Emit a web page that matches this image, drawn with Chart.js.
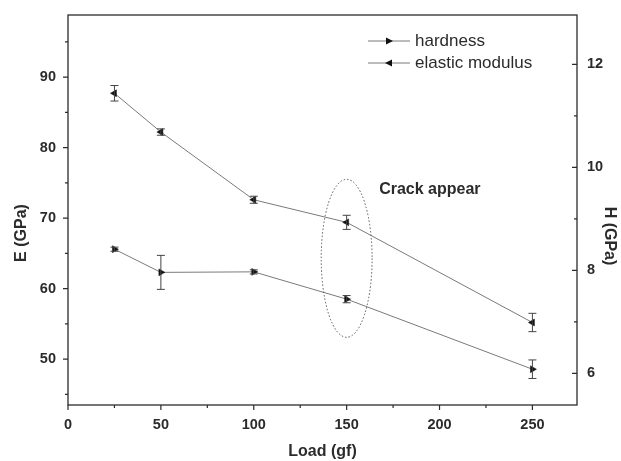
<!DOCTYPE html>
<html>
<head>
<meta charset="utf-8">
<script src="https://cdn.jsdelivr.net/npm/chart.js@4"></script>
<style>
    html, body { margin: 0; padding: 0; background: #fff; }
    #wrap { width: 621px; height: 461px; }
</style>
</head>
<body>
<div id="wrap"><canvas id="myChart" width="621" height="461"></canvas></div>
<script>
// load values (gf)
var loads = [25, 50, 100, 150, 250];
// elastic modulus, left axis (GPa)
var modulus = [87.7, 82.2, 72.6, 69.4, 55.2];
var modulusErr = [1.1, 0.45, 0.5, 1.0, 1.3];
// hardness, right axis (GPa)
var hardness = [8.41, 7.96, 7.97, 7.44, 6.08];
var hardnessErr = [0.04, 0.33, 0.04, 0.07, 0.18];

var xTicks = [0, 50, 100, 150, 200, 250];
var eTicks = [50, 60, 70, 80, 90];
var hTicks = [6, 8, 10, 12];

// the dotted "crack" ellipse, in data units (load, E)
var crackCenter = [150, 64.3];
var crackRadius = [13.7, 11.2];
var crackLabel = 'Crack appear';
var crackLabelAt = [167.5, 74.1];

var ink = '#2b2b2b';
var lineGray = '#7a7a7a';

function toPoints(xs, ys) {
    return xs.map(function (x, i) { return { x: x, y: ys[i] }; });
}

// keep the plot box fixed: no extra padding for edge labels
function noEdgePadding(ax) {
    ax.paddingTop = 0;
    ax.paddingBottom = 0;
    ax.paddingLeft = 0;
    ax.paddingRight = 0;
}

// error bars, ticks, frame, ellipse, legend, axis titles
var extras = {
    id: 'extras',
    afterDatasetsDraw: function (chart) {
        var ctx = chart.ctx;
        ctx.save();
        ctx.strokeStyle = '#444';
        ctx.lineWidth = 1;
        chart.data.datasets.forEach(function (ds, di) {
            var meta = chart.getDatasetMeta(di);
            var sc = chart.scales[ds.yAxisID];
            meta.data.forEach(function (pt, i) {
                var err = ds.errors[i];
                var v = ds.data[i].y;
                var y1 = sc.getPixelForValue(v + err);
                var y2 = sc.getPixelForValue(v - err);
                ctx.beginPath();
                ctx.moveTo(pt.x, y1); ctx.lineTo(pt.x, y2);
                ctx.moveTo(pt.x - 4, y1); ctx.lineTo(pt.x + 4, y1);
                ctx.moveTo(pt.x - 4, y2); ctx.lineTo(pt.x + 4, y2);
                ctx.stroke();
            });
        });

        // dotted ellipse
        var xs = chart.scales.x, ys = chart.scales.yE;
        var cx = xs.getPixelForValue(crackCenter[0]);
        var cy = ys.getPixelForValue(crackCenter[1]);
        var rx = xs.getPixelForValue(crackCenter[0] + crackRadius[0]) - cx;
        var ry = cy - ys.getPixelForValue(crackCenter[1] + crackRadius[1]);
        ctx.setLineDash([1.5, 2]);
        ctx.strokeStyle = '#555';
        ctx.beginPath();
        ctx.ellipse(cx, cy, rx, ry, 0, 0, Math.PI * 2);
        ctx.stroke();
        ctx.setLineDash([]);

        ctx.fillStyle = ink;
        ctx.font = 'bold 16px "Liberation Sans", Arial, sans-serif';
        ctx.textBaseline = 'middle';
        ctx.textAlign = 'left';
        ctx.fillText(crackLabel, xs.getPixelForValue(crackLabelAt[0]), ys.getPixelForValue(crackLabelAt[1]));
        ctx.restore();
    },
    afterDraw: function (chart) {
        var ctx = chart.ctx;
        var a = chart.chartArea;
        var xs = chart.scales.x, yE = chart.scales.yE, yH = chart.scales.yH;
        ctx.save();
        ctx.strokeStyle = ink;
        ctx.lineWidth = 1.3;
        ctx.strokeRect(a.left, a.top, a.right - a.left, a.bottom - a.top);

        ctx.lineWidth = 1.2;
        ctx.beginPath();
        for (var v = 0; v <= xs.max; v += 25) {
            var px = xs.getPixelForValue(v);
            ctx.moveTo(px, a.bottom);
            ctx.lineTo(px, a.bottom + (v % 50 === 0 ? 5 : 3));
        }
        for (var e = 45; e <= yE.max; e += 5) {
            var py = yE.getPixelForValue(e);
            ctx.moveTo(a.left, py);
            ctx.lineTo(a.left - (e % 10 === 0 ? 5 : 3), py);
        }
        for (var h = 6; h <= yH.max; h += 1) {
            var ph = yH.getPixelForValue(h);
            ctx.moveTo(a.right, ph);
            ctx.lineTo(a.right - (h % 2 === 0 ? 5 : 3), ph);
        }
        ctx.stroke();

        // legend
        var labels = ['hardness', 'elastic modulus'];
        var rot = [90, -90];
        ctx.font = '17px "Liberation Sans", Arial, sans-serif';
        ctx.textBaseline = 'middle';
        labels.forEach(function (lab, i) {
            var y = 41 + i * 22;
            ctx.strokeStyle = lineGray;
            ctx.lineWidth = 1;
            ctx.beginPath();
            ctx.moveTo(368, y); ctx.lineTo(410, y);
            ctx.stroke();
            ctx.fillStyle = '#111';
            ctx.save();
            ctx.translate(389, y);
            ctx.rotate(rot[i] * Math.PI / 180);
            ctx.beginPath();
            ctx.moveTo(0, -4); ctx.lineTo(3.5, 3); ctx.lineTo(-3.5, 3);
            ctx.closePath();
            ctx.fill();
            ctx.restore();
            ctx.fillStyle = ink;
            ctx.fillText(lab, 415, y);
        });

        // y axis titles
        ctx.font = 'bold 16px "Liberation Sans", Arial, sans-serif';
        ctx.textAlign = 'center';
        ctx.save();
        ctx.translate(22, 233);
        ctx.rotate(-Math.PI / 2);
        ctx.fillText('E (GPa)', 0, 0);
        ctx.restore();
        ctx.save();
        ctx.translate(609, 236);
        ctx.rotate(Math.PI / 2);
        ctx.fillText('H (GPa)', 0, 0);
        ctx.restore();
        ctx.restore();
    }
};

var tickFont = { family: '"Liberation Sans", Arial, sans-serif', size: 14.5, weight: 'bold' };

var ctx = document.getElementById('myChart').getContext('2d');
var myChart = new Chart(ctx, {
    type: 'line',
    data: {
        datasets: [{
            label: 'hardness',
            data: toPoints(loads, hardness),
            errors: hardnessErr,
            yAxisID: 'yH',
            borderColor: lineGray,
            borderWidth: 1,
            pointStyle: 'triangle',
            rotation: 90,
            radius: 4,
            pointBackgroundColor: '#111',
            pointBorderColor: '#111',
            pointBorderWidth: 0.5
        },
        {
            label: 'elastic modulus',
            data: toPoints(loads, modulus),
            errors: modulusErr,
            yAxisID: 'yE',
            borderColor: lineGray,
            borderWidth: 1,
            pointStyle: 'triangle',
            rotation: -90,
            radius: 4,
            pointBackgroundColor: '#111',
            pointBorderColor: '#111',
            pointBorderWidth: 0.5
        }]
    },
    options: {
        responsive: false,
        animation: false,
        layout: { padding: { top: 15 } },
        plugins: {
            legend: { display: false },
            tooltip: { enabled: false }
        },
        scales: {
            x: {
                type: 'linear',
                min: 0,
                max: 274,
                afterBuildTicks: function (ax) { ax.ticks = xTicks.map(function (v) { return { value: v }; }); },
                afterFit: function (ax) { ax.height = 56; noEdgePadding(ax); },
                grid: { display: false, drawTicks: false },
                border: { display: false },
                ticks: { color: ink, font: tickFont, padding: 11, maxRotation: 0 },
                title: {
                    display: true,
                    text: 'Load (gf)',
                    color: ink,
                    font: { family: '"Liberation Sans", Arial, sans-serif', size: 16, weight: 'bold' },
                    padding: { top: 0, bottom: 0 }
                }
            },
            yE: {
                type: 'linear',
                position: 'left',
                min: 43.5,
                max: 98.8,
                afterBuildTicks: function (ax) { ax.ticks = eTicks.map(function (v) { return { value: v }; }); },
                afterFit: function (ax) { ax.width = 68; noEdgePadding(ax); },
                grid: { display: false, drawTicks: false },
                border: { display: false },
                ticks: { color: ink, font: tickFont, padding: 12 }
            },
            yH: {
                type: 'linear',
                position: 'right',
                min: 5.385,
                max: 12.957,
                afterBuildTicks: function (ax) { ax.ticks = hTicks.map(function (v) { return { value: v }; }); },
                afterFit: function (ax) { ax.width = 44; noEdgePadding(ax); },
                grid: { display: false, drawTicks: false },
                border: { display: false },
                ticks: { color: ink, font: tickFont, padding: 10 }
            }
        }
    },
    plugins: [extras]
});
</script>
</body>
</html>
